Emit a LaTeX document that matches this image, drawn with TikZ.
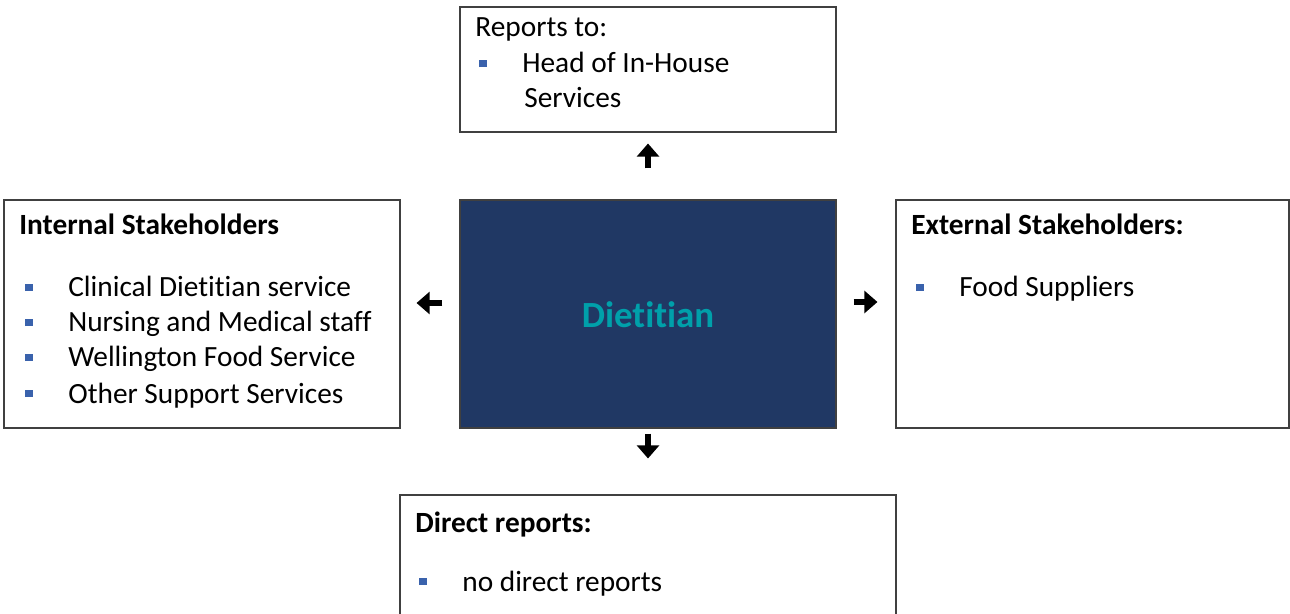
\documentclass[tikz,border=0pt]{standalone}
\usepackage{fontspec}
\setmainfont[Ligatures=NoCommon]{Carlito}
\usetikzlibrary{arrows.meta}
\definecolor{navy}{HTML}{203864}
\definecolor{tealtext}{HTML}{00A0AA}
\definecolor{bulblue}{HTML}{3A62AC}
\newcommand{\bul}{\textcolor{bulblue}{\raisebox{0.2em}{\rule{4.2pt}{4.2pt}}}}
\newcommand{\itm}[1]{\makebox[0.86cm][l]{\bul}#1}
\tikzset{
  box/.style={draw=black!75, line width=0.6pt, rectangle, inner sep=0pt},
  txt/.style={anchor=base west, inner sep=0pt, font=\fontsize{16.7}{19}\selectfont},
  hd/.style={txt, font=\fontsize{16.7}{19}\selectfont\bfseries},
  pointer/.style={-{Triangle[length=7.5pt,width=12.5pt]}, line width=3.4pt}
}
\begin{document}
\begin{tikzpicture}[x=0.02cm,y=-0.02cm]
      \useasboundingbox (0,0) rectangle (1290,614);
      \clip (0,0) rectangle (1290,614);
      % boxes
      \node[box, minimum width=376*0.02cm, minimum height=125*0.02cm] (top) at (648,69.5) {};
      \node[box, minimum width=396*0.02cm, minimum height=228*0.02cm] (left) at (202,314) {};
      \node[box, fill=navy, minimum width=376*0.02cm, minimum height=228*0.02cm] (main) at (648,314) {};
      \node[box, minimum width=393*0.02cm, minimum height=228*0.02cm] (right) at (1092.5,314) {};
      \node[box, minimum width=496*0.02cm, minimum height=160*0.02cm] (bottom) at (648,575) {};
      % texts
      \node[font=\fontsize{21}{24}\selectfont\bfseries, text=tealtext] (name) at (648,315) {Dietitian};
      \node[txt] (up0) at (475,37) {Reports to:};
      \node[txt] (up1) at (479,73) {\itm{Head of In-House}};
      \node[txt] (up2) at (524,108) {Services};
      \node[hd] (in0) at (19,235) {Internal Stakeholders};
      \node[txt] (in1) at (25,297) {\itm{Clinical Dietitian service}};
      \node[txt] (in2) at (25,332) {\itm{Nursing and Medical staff}};
      \node[txt] (in3) at (25,367) {\itm{Wellington Food Service}};
      \node[txt] (in4) at (25,403) {\itm{Other Support Services}};
      \node[hd] (ex0) at (911,235) {External Stakeholders:};
      \node[txt] (ex1) at (916,297) {\itm{Food Suppliers}};
      \node[hd] (dr0) at (415,532) {Direct reports:};
      \node[txt] (dr1) at (419,591) {\itm{no direct reports}};
      % arrows
      \draw[pointer, shorten <=0.62cm, shorten >=0.22cm] (main.north) -- (top.south);
      \draw[pointer, shorten <=0.1cm, shorten >=0.72cm] (main.south) -- (bottom.north);
      \draw[pointer, shorten <=0.34cm, shorten >=0.32cm] ([yshift=0.22cm]main.west) -- ([yshift=0.22cm]left.east);
      \draw[pointer, shorten <=0.34cm, shorten >=0.36cm] ([yshift=0.24cm]main.east) -- ([yshift=0.24cm]right.west);
    \end{tikzpicture}
\end{document}
